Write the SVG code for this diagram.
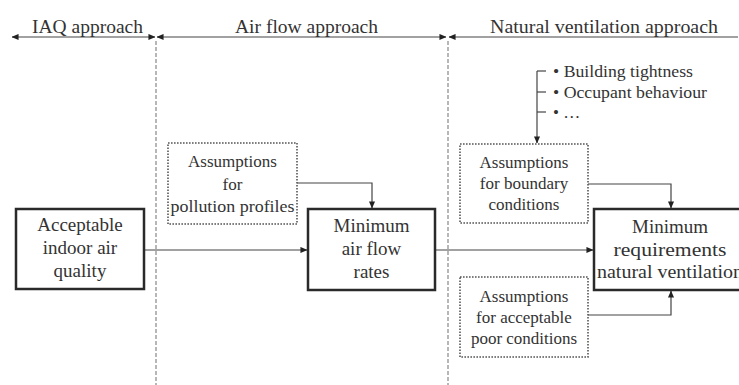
<svg xmlns="http://www.w3.org/2000/svg" width="739" height="385" viewBox="0 0 739 385">
<defs>
<style>
text{font-family:"Liberation Serif","Times New Roman",serif;fill:#333}
.hd{font-size:18px}
.mb{font-size:19px;text-anchor:middle}
.ab{font-size:17px;text-anchor:middle}
.bl{font-size:17px}
.main{fill:#fff;stroke:#2a2a2a;stroke-width:2.5}
.asm{fill:#fff;stroke:#555;stroke-width:1.6;stroke-dasharray:1.6 1.4}
.div{stroke:#888;stroke-width:1.2;stroke-dasharray:4 2;fill:none}
.ln{stroke:#444;stroke-width:1.2;fill:none}
</style>
<marker id="ah" viewBox="0 0 8 8" refX="7.5" refY="4" markerWidth="7" markerHeight="7" markerUnits="userSpaceOnUse" orient="auto-start-reverse">
<path d="M0,0.5 L8,4 L0,7.5 Z" fill="#222"/>
</marker>
</defs>

<g id="header">
<line class="ln" x1="12" y1="37" x2="155" y2="37" marker-start="url(#ah)" marker-end="url(#ah)"/>
<line class="ln" x1="157" y1="37" x2="446" y2="37" marker-start="url(#ah)" marker-end="url(#ah)"/>
<line class="ln" x1="449" y1="37" x2="738" y2="37" marker-start="url(#ah)"/>
<text class="hd" x="32" y="33" textLength="111" lengthAdjust="spacingAndGlyphs">IAQ approach</text>
<text class="hd" x="235" y="33" textLength="143" lengthAdjust="spacingAndGlyphs">Air flow approach</text>
<text class="hd" x="490" y="33" textLength="228" lengthAdjust="spacingAndGlyphs">Natural ventilation approach</text>
</g>

<g id="dividers">
<line class="div" x1="156" y1="41" x2="156" y2="385"/>
<line class="div" x1="448" y1="41" x2="448" y2="385"/>
</g>

<g id="connectors">
<line class="ln" x1="144" y1="250" x2="307" y2="250" marker-end="url(#ah)"/>
<line class="ln" x1="435" y1="250" x2="593" y2="250" marker-end="url(#ah)"/>
<polyline class="ln" points="297,183 372,183 372,208" marker-end="url(#ah)"/>
<polyline class="ln" points="588,184 671,184 671,208" marker-end="url(#ah)"/>
<polyline class="ln" points="588,315 671,315 671,291" marker-end="url(#ah)"/>
<line class="ln" x1="537" y1="71" x2="537" y2="143" marker-end="url(#ah)"/>
<line class="ln" x1="537" y1="71" x2="546" y2="71"/>
<line class="ln" x1="537" y1="92" x2="546" y2="92"/>
<line class="ln" x1="537" y1="112" x2="546" y2="112"/>
</g>

<g id="bullets">
<text class="bl" x="553" y="77" textLength="140" lengthAdjust="spacingAndGlyphs">• Building tightness</text>
<text class="bl" x="553" y="98" textLength="154" lengthAdjust="spacingAndGlyphs">• Occupant behaviour</text>
<text class="bl" x="553" y="118">• …</text>
</g>

<g id="iaq">
<rect class="main" x="16" y="209" width="128" height="80"/>
<text class="mb" x="80" y="231">Acceptable</text>
<text class="mb" x="80" y="254">indoor air</text>
<text class="mb" x="80" y="277">quality</text>
</g>

<g id="pollution">
<rect class="asm" x="168" y="143" width="129" height="81"/>
<text class="ab" x="232.5" y="167">Assumptions</text>
<text class="ab" x="232.5" y="190">for</text>
<text class="ab" x="232.5" y="212" textLength="124" lengthAdjust="spacingAndGlyphs">pollution profiles</text>
</g>

<g id="airflow">
<rect class="main" x="308" y="209" width="127" height="81"/>
<text class="mb" x="371.5" y="232">Minimum</text>
<text class="mb" x="371.5" y="255">air flow</text>
<text class="mb" x="371.5" y="278">rates</text>
</g>

<g id="boundary">
<rect class="asm" x="460" y="144" width="128" height="79"/>
<text class="ab" x="524" y="168">Assumptions</text>
<text class="ab" x="524" y="189">for boundary</text>
<text class="ab" x="524" y="210">conditions</text>
</g>

<g id="poor">
<rect class="asm" x="460" y="277" width="128" height="80"/>
<text class="ab" x="524" y="302">Assumptions</text>
<text class="ab" x="524" y="323">for acceptable</text>
<text class="ab" x="524" y="344">poor conditions</text>
</g>

<g id="natural">
<rect class="main" x="594" y="209" width="152" height="81"/>
<text class="mb" x="670" y="233">Minimum</text>
<text class="mb" x="670" y="256" textLength="113" lengthAdjust="spacingAndGlyphs">requirements</text>
<text class="mb" x="670" y="278" textLength="146" lengthAdjust="spacingAndGlyphs">natural ventilation</text>
</g>
</svg>
